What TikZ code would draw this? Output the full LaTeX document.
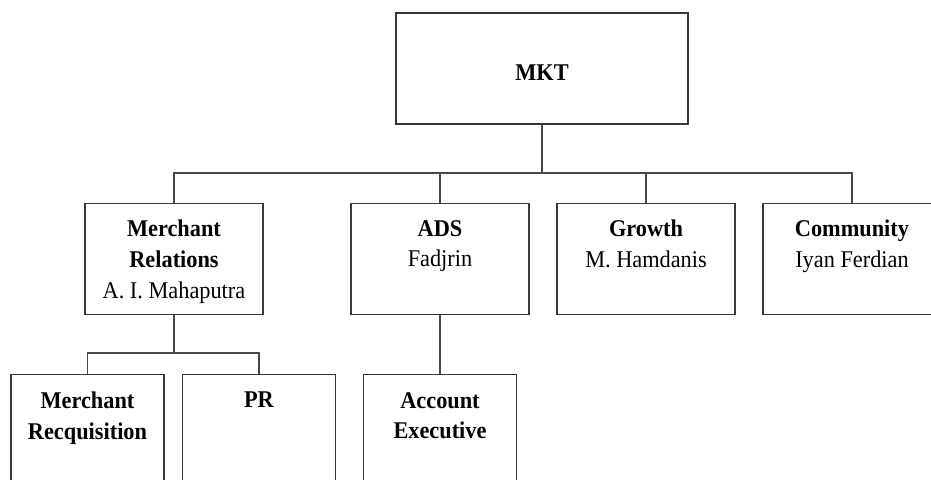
\documentclass[tikz,border=0pt]{standalone}
\usepackage{fontspec}
\setmainfont{Liberation Serif}[FakeStretch=0.93]
\begin{document}
\begin{tikzpicture}[x=1pt,y=-1pt,
  box/.style={draw=black!78,line width=1.4pt,inner sep=0pt,minimum width=178pt,minimum height=111pt,anchor=north},
  subbox/.style={box,minimum width=153pt},
  lbl/.style={anchor=north,inner sep=0pt,align=center,font=\fontsize{24}{30.7}\selectfont},
  conn/.style={draw=black!72,line width=1.3pt}]
\useasboundingbox (0,0) rectangle (931,479);
\clip (0,0) rectangle (931,479);
% boxes
\node[box,minimum width=292pt,anchor=center] (mkt) at (542,68.5) {};
\node[box] (mr) at (174,203) {};
\node[box] (ads) at (440,203) {};
\node[box] (gr) at (646,203) {};
\node[box] (com) at (852,203) {};
\node[subbox] (mreq) at (87.5,374) {};
\node[subbox] (pr) at (259,374) {};
\node[subbox] (ae) at (440,374) {};
% labels
\node[inner sep=0pt,font=\fontsize{24}{30.7}\selectfont\bfseries] (tmkt) at (542,73) {MKT};
\node[lbl] (tmr) at ([yshift=-17pt]mr.north) {\textbf{Merchant}\\\textbf{Relations}\\A. I. Mahaputra};
\node[lbl] (tads) at ([yshift=-17pt]ads.north) {\textbf{ADS}\\Fadjrin};
\node[lbl] (tgr) at ([yshift=-17pt]gr.north) {\textbf{Growth}\\M. Hamdanis};
\node[lbl] (tcom) at ([yshift=-17pt]com.north) {\textbf{Community}\\Iyan Ferdian};
\node[lbl] (tmreq) at ([yshift=-18pt]mreq.north) {\textbf{Merchant}\\\textbf{Recquisition}};
\node[lbl] (tpr) at ([yshift=-18pt]pr.north) {\textbf{PR}};
\node[lbl] (tae) at ([yshift=-18pt]ae.north) {\textbf{Account}\\\textbf{Executive}};
% connectors
\coordinate (bus) at (0,173);
\coordinate (sub) at (0,353);
\draw[conn] (mkt.south) -- (mkt.south |- bus);
\draw[conn] (mr.north) |- (com.north |- bus) -- (com.north);
\draw[conn] (ads.north) -- (ads.north |- bus);
\draw[conn] (gr.north) -- (gr.north |- bus);
\draw[conn] (mr.south) -- (mr.south |- sub);
\draw[conn] (mreq.north) |- (pr.north |- sub) -- (pr.north);
\draw[conn] (ads.south) -- (ae.north);
\end{tikzpicture}
\end{document}
